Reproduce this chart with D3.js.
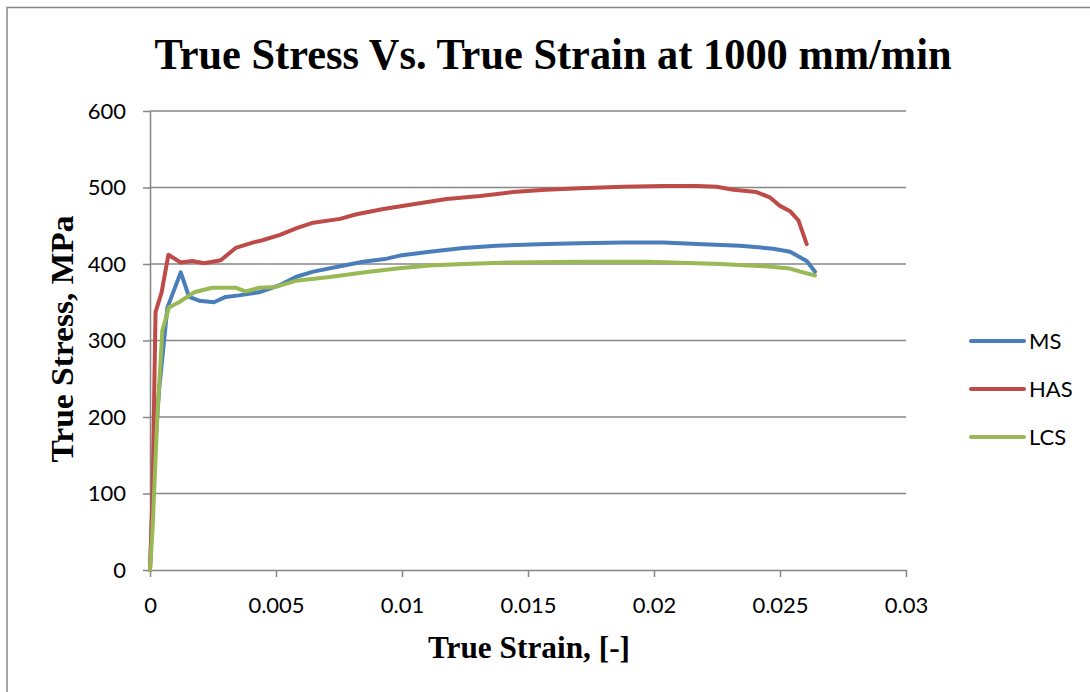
<!DOCTYPE html>
<html>
<head>
<meta charset="utf-8">
<script src="https://cdn.jsdelivr.net/npm/d3@7"></script>
<style>
  body { margin: 0; background: #fff; }
  svg { display: block; }
</style>
</head>
<body>
<div id="plot"></div>
<script>
// chart data
const seriesNames = ["MS", "HAS", "LCS"];
const seriesColors = ["#4a7ebb", "#be4b48", "#98b954"];

const msStrain = [0, 0.00016, 0.00036, 0.00069, 0.00122, 0.00155, 0.00195, 0.00254, 0.003, 0.00353, 0.00433, 0.00512, 0.00578, 0.00648, 0.00754, 0.00846, 0.0094, 0.00992, 0.0111, 0.01243, 0.01375, 0.01574, 0.01706, 0.01878, 0.02037, 0.0217, 0.02341, 0.02473, 0.0254, 0.02606, 0.02639];
const msStress = [0, 139, 235, 343, 389, 357, 352, 350, 357, 359, 363, 372, 383, 390, 397, 403, 407, 411, 416, 421, 424, 426, 427, 428, 428, 426, 424, 420, 416, 404, 390];

const hasStrain = [0, 0.0001, 0.00016, 0.00022, 0.00046, 0.00073, 0.00122, 0.00168, 0.00215, 0.00281, 0.0034, 0.00407, 0.00446, 0.00516, 0.00582, 0.00648, 0.00754, 0.0082, 0.00926, 0.01045, 0.01177, 0.0131, 0.0144, 0.0157, 0.01706, 0.01878, 0.02037, 0.0217, 0.02249, 0.02315, 0.02407, 0.0246, 0.025, 0.0254, 0.02573, 0.02606];
const hasStress = [0, 96, 217, 337, 363, 412, 402, 404, 401, 405, 421, 428, 431, 438, 447, 454, 459, 465, 472, 478, 485, 489, 494, 497, 499, 501, 502, 502, 501, 497, 494, 487, 476, 469, 457, 426];

const lcsStrain = [0, 0.0001, 0.00029, 0.00049, 0.00075, 0.00115, 0.00175, 0.00247, 0.0034, 0.0038, 0.00433, 0.00499, 0.00578, 0.00714, 0.00846, 0.00979, 0.0111, 0.01243, 0.0144, 0.01706, 0.01971, 0.0217, 0.02262, 0.0244, 0.0254, 0.0258, 0.02639];
const lcsStress = [0, 52, 200, 313, 343, 350, 363, 369, 369, 364, 369, 370, 378, 383, 389, 394, 398, 400, 402, 403, 403, 401, 400, 397, 394, 390, 385];

const xTicks = [0, 0.005, 0.01, 0.015, 0.02, 0.025, 0.03];
const yTicks = [0, 100, 200, 300, 400, 500, 600];

const width = 1090;
const height = 692;

const plot = { left: 150, right: 906, top: 111, bottom: 570 };

const x = d3.scaleLinear().domain([0, 0.03]).range([plot.left, plot.right]);
const y = d3.scaleLinear().domain([0, 600]).range([plot.bottom, plot.top]);

const svg = d3.select("div#plot")
    .append("svg")
    .attr("width", width)
    .attr("height", height);

const serif = "'Liberation Serif', 'Times New Roman', serif";
const sans = "Lato, 'Open Sans', sans-serif";

// outer frame (only left and top edges show in the picture)
svg.append("path")
    .attr("d", "M7,692 L7,7.5 L1090,7.5")
    .style("fill", "none")
    .style("stroke", "#868686")
    .style("stroke-width", 1.5);

// title
svg.append("text")
    .attr("x", 553)
    .attr("y", 69)
    .attr("text-anchor", "middle")
    .attr("textLength", 797)
    .attr("lengthAdjust", "spacingAndGlyphs")
    .style("font-family", serif)
    .style("font-weight", "bold")
    .style("font-size", "44px")
    .text("True Stress Vs. True Strain at 1000 mm/min");

// horizontal gridlines
svg.append("g")
    .selectAll("line")
    .data(yTicks.filter(function(d) { return d > 0; }))
    .enter()
    .append("line")
    .attr("x1", plot.left)
    .attr("x2", plot.right)
    .attr("y1", function(d) { return y(d); })
    .attr("y2", function(d) { return y(d); })
    .style("stroke", "#868686")
    .style("stroke-width", 1.5);

// y axis
const yAxis = svg.append("g")
    .attr("transform", "translate(" + plot.left + ",0)")
    .call(d3.axisLeft(y).tickValues(yTicks).tickSize(7).tickPadding(17).tickSizeOuter(0));

// x axis
const xAxis = svg.append("g")
    .attr("transform", "translate(0," + plot.bottom + ")")
    .call(d3.axisBottom(x).tickValues(xTicks).tickFormat(d3.format("")).tickSize(7).tickPadding(20).tickSizeOuter(0));

[yAxis, xAxis].forEach(function(ax) {
    ax.select(".domain").style("stroke", "#868686").style("stroke-width", 1.5);
    ax.selectAll(".tick line").style("stroke", "#868686").style("stroke-width", 1.5);
    ax.selectAll(".tick text")
        .style("font-family", sans)
        .style("font-size", "22px")
        .style("fill", "#000");
});

// axis titles
svg.append("text")
    .attr("x", 529)
    .attr("y", 658)
    .attr("text-anchor", "middle")
    .attr("textLength", 202)
    .attr("lengthAdjust", "spacingAndGlyphs")
    .style("font-family", serif)
    .style("font-weight", "bold")
    .style("font-size", "31px")
    .text("True Strain, [-]");

svg.append("text")
    .attr("transform", "translate(73,339) rotate(-90)")
    .attr("text-anchor", "middle")
    .attr("textLength", 247)
    .attr("lengthAdjust", "spacingAndGlyphs")
    .style("font-family", serif)
    .style("font-weight", "bold")
    .style("font-size", "31px")
    .text("True Stress, MPa");

// series lines
const seriesData = [
    d3.zip(msStrain, msStress),
    d3.zip(hasStrain, hasStress),
    d3.zip(lcsStrain, lcsStress)
];

const line = d3.line()
    .x(function(d) { return x(d[0]); })
    .y(function(d) { return y(d[1]); });

// draw order: MS, HAS, then LCS on top
svg.append("g")
    .selectAll("path")
    .data(seriesData)
    .enter()
    .append("path")
    .attr("d", line)
    .style("fill", "none")
    .style("stroke", function(d, i) { return seriesColors[i]; })
    .style("stroke-width", 4)
    .style("stroke-linejoin", "round")
    .style("stroke-linecap", "round");

// legend
const legend = svg.append("g")
    .selectAll("g")
    .data(seriesNames)
    .enter()
    .append("g")
    .attr("transform", function(d, i) { return "translate(0," + (341 + i * 48) + ")"; });

legend.append("line")
    .attr("x1", 971)
    .attr("x2", 1024)
    .style("stroke", function(d, i) { return seriesColors[i]; })
    .style("stroke-width", 4)
    .style("stroke-linecap", "round");

legend.append("text")
    .attr("x", 1029)
    .attr("y", 8)
    .style("font-family", sans)
    .style("font-size", "22px")
    .text(function(d) { return d; });
</script>
</body>
</html>
